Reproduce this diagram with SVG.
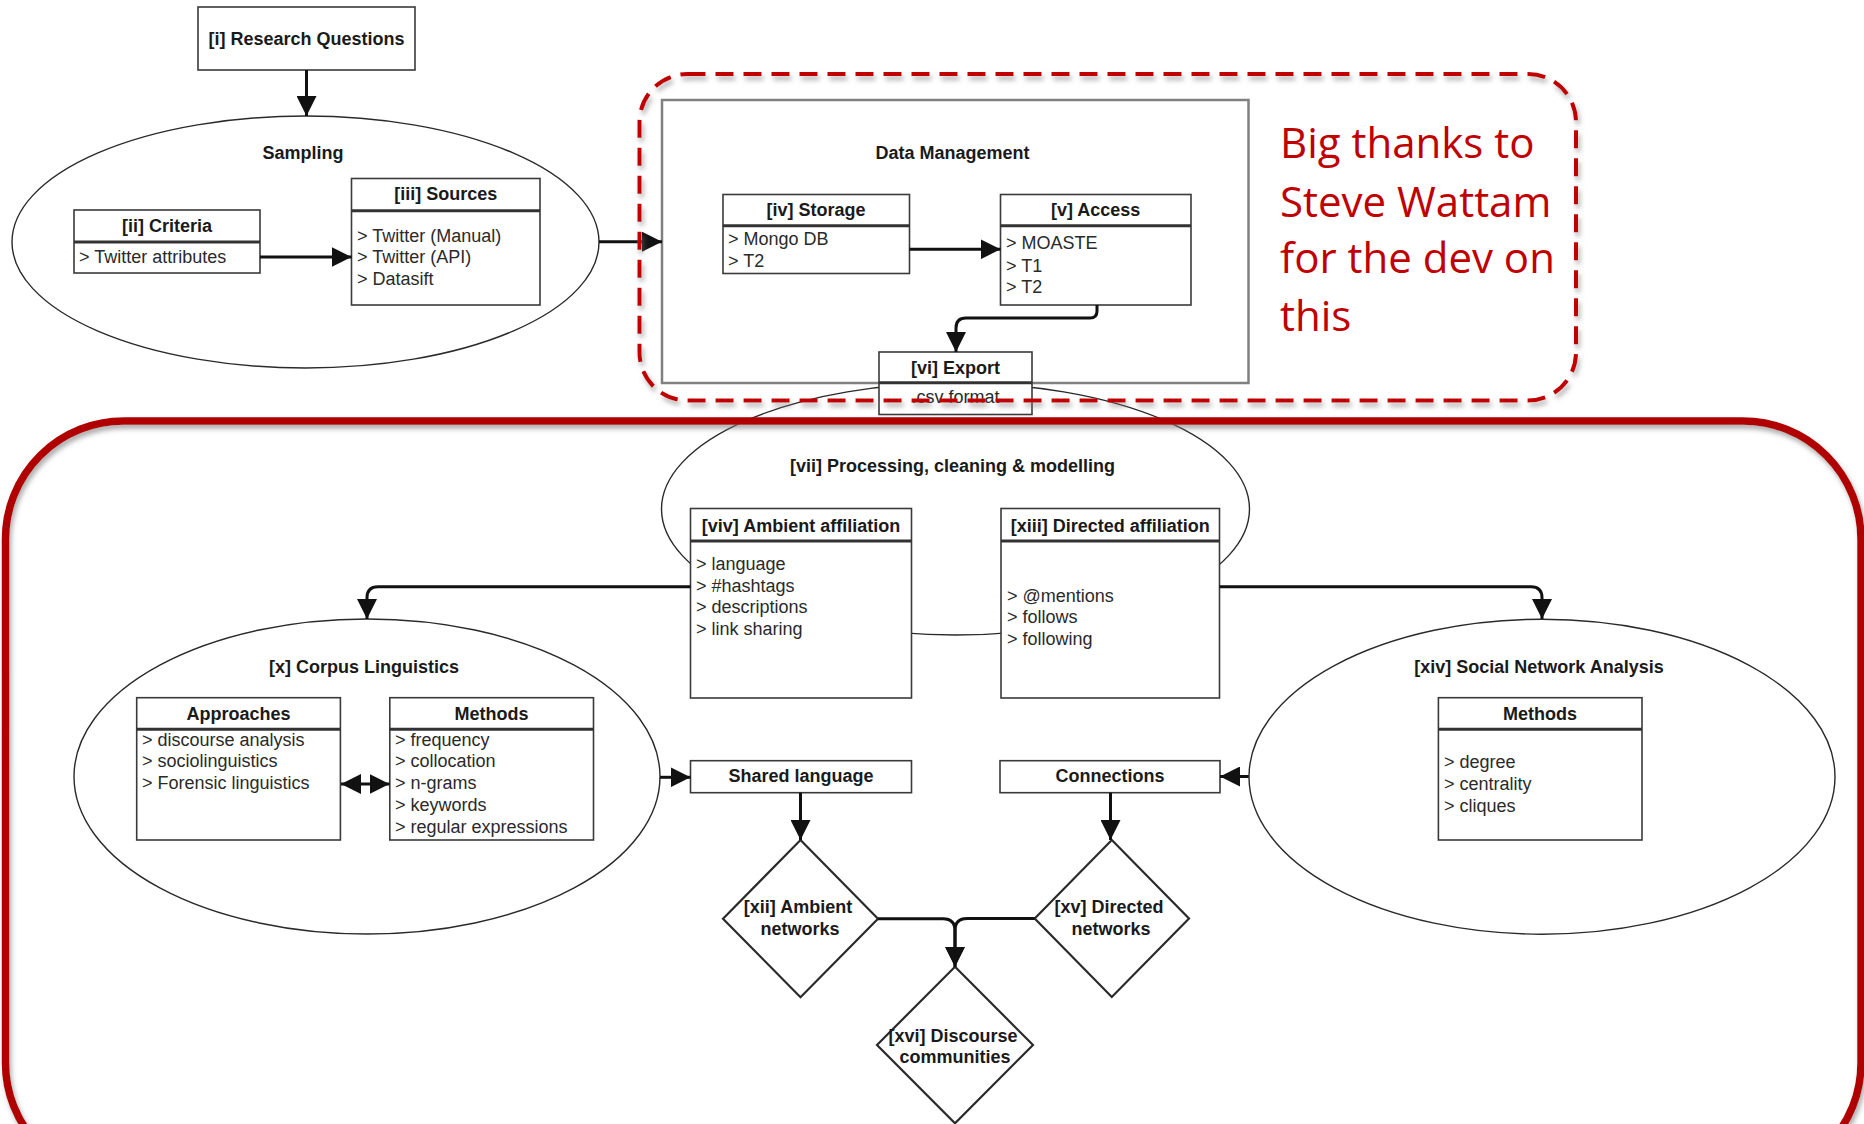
<svg xmlns="http://www.w3.org/2000/svg" width="1864" height="1124" viewBox="0 0 1864 1124">
<defs>
<style>
.b{font-family:"Liberation Sans",Arial,sans-serif;font-weight:bold;font-size:18px;fill:#1a1a1a;text-anchor:middle}
.r{font-family:"Liberation Sans",Arial,sans-serif;font-size:18px;fill:#2a2a2a}
.box{fill:#fff;stroke:#3a3a3a;stroke-width:1.6}
.sep{stroke:#333;stroke-width:3}
.ell{fill:#fff;stroke:#2a2a2a;stroke-width:1.4}
.dia{fill:#fff;stroke:#2a2a2a;stroke-width:2.2}
.con{fill:none;stroke:#111;stroke-width:3}
.thanks{font-family:"Open Sans","Liberation Sans",sans-serif;font-size:42px;fill:#c00000}
</style>
<marker id="ah" markerUnits="userSpaceOnUse" markerWidth="20" markerHeight="20" refX="20" refY="10" orient="auto-start-reverse" viewBox="0 0 20 20">
<path d="M0,0 L20,10 L0,20 z" fill="#111"/>
</marker>
<filter id="sh" x="-5%" y="-5%" width="110%" height="110%">
<feDropShadow dx="2" dy="4" stdDeviation="2.5" flood-color="#777" flood-opacity="0.6"/>
</filter>
</defs>
<rect width="1864" height="1124" fill="#fff"/>

<g id="research-questions">
<rect class="box" x="198" y="7" width="217" height="63"/>
<text class="b" x="306.5" y="45">[i] Research Questions</text>
</g>

<g id="sampling">
<ellipse class="ell" cx="305.5" cy="242" rx="293.5" ry="126"/>
<text class="b" x="303" y="159">Sampling</text>
</g>

<g id="criteria">
<rect class="box" x="74" y="210" width="186" height="63"/>
<line class="sep" x1="74" y1="242" x2="260" y2="242"/>
<text class="b" x="167" y="231.5">[ii] Criteria</text>
<text class="r" x="79" y="263">&gt; Twitter attributes</text>
</g>

<g id="sources">
<rect class="box" x="351.5" y="178.5" width="188.5" height="126.5"/>
<line class="sep" x1="351.5" y1="210.7" x2="540" y2="210.7"/>
<text class="b" x="445.7" y="200">[iii] Sources</text>
<text class="r" x="357" y="241.7">&gt; Twitter (Manual)</text>
<text class="r" x="357" y="263.3">&gt; Twitter (API)</text>
<text class="r" x="357" y="285">&gt; Datasift</text>
</g>

<g id="data-management">
<rect x="662" y="100" width="586.5" height="283" fill="#fff" stroke="#808080" stroke-width="2.5"/>
<text class="b" x="952.6" y="159">Data Management</text>
</g>

<g id="storage">
<rect class="box" x="723" y="194.5" width="186.5" height="79"/>
<line class="sep" x1="723" y1="225.7" x2="909.5" y2="225.7"/>
<text class="b" x="816" y="216">[iv] Storage</text>
<text class="r" x="728" y="245">&gt; Mongo DB</text>
<text class="r" x="728" y="266.7">&gt; T2</text>
</g>

<g id="access">
<rect class="box" x="1000.5" y="194.5" width="190.5" height="110.5"/>
<line class="sep" x1="1000.5" y1="225.7" x2="1191" y2="225.7"/>
<text class="b" x="1095.7" y="216">[v] Access</text>
<text class="r" x="1006" y="249.3">&gt; MOASTE</text>
<text class="r" x="1006" y="271.7">&gt; T1</text>
<text class="r" x="1006" y="293.3">&gt; T2</text>
</g>

<g id="processing">
<ellipse class="ell" fill="none" style="fill:none" cx="955.5" cy="509" rx="294" ry="126"/>
<text class="b" x="952.5" y="471.7">[vii] Processing, cleaning &amp; modelling</text>
</g>

<g id="export">
<rect class="box" x="879" y="352" width="153" height="62.5"/>
<line class="sep" x1="879" y1="382.7" x2="1032" y2="382.7"/>
<text class="b" x="955.5" y="373.5">[vi] Export</text>
<text class="r" x="955.5" y="403" text-anchor="middle">.csv format</text>
</g>

<g id="ambient-affiliation">
<rect class="box" x="690.5" y="508.5" width="221" height="189.5"/>
<line class="sep" x1="690.5" y1="541" x2="911.5" y2="541"/>
<text class="b" x="801" y="532">[viv] Ambient affiliation</text>
<text class="r" x="696" y="570">&gt; language</text>
<text class="r" x="696" y="591.7">&gt; #hashtags</text>
<text class="r" x="696" y="613.3">&gt; descriptions</text>
<text class="r" x="696" y="635">&gt; link sharing</text>
</g>

<g id="directed-affiliation">
<rect class="box" x="1001" y="508.5" width="218.5" height="189.5"/>
<line class="sep" x1="1001" y1="541" x2="1219.5" y2="541"/>
<text class="b" x="1110.3" y="532">[xiii] Directed affiliation</text>
<text class="r" x="1007" y="601.7">&gt; @mentions</text>
<text class="r" x="1007" y="623.3">&gt; follows</text>
<text class="r" x="1007" y="645">&gt; following</text>
</g>

<g id="corpus-linguistics">
<ellipse class="ell" cx="367" cy="776.5" rx="293" ry="157.5"/>
<text class="b" x="364" y="672.7">[x] Corpus Linguistics</text>
</g>

<g id="approaches">
<rect class="box" x="136.7" y="697.7" width="203.7" height="142.3"/>
<line class="sep" x1="136.7" y1="729.3" x2="340.4" y2="729.3"/>
<text class="b" x="238.5" y="720">Approaches</text>
<text class="r" x="142" y="746">&gt; discourse analysis</text>
<text class="r" x="142" y="767.3">&gt; sociolinguistics</text>
<text class="r" x="142" y="789.3">&gt; Forensic linguistics</text>
</g>

<g id="cl-methods">
<rect class="box" x="389.8" y="697.7" width="203.7" height="142.3"/>
<line class="sep" x1="389.8" y1="729.3" x2="593.5" y2="729.3"/>
<text class="b" x="491.6" y="720">Methods</text>
<text class="r" x="395" y="746">&gt; frequency</text>
<text class="r" x="395" y="767.3">&gt; collocation</text>
<text class="r" x="395" y="789.3">&gt; n-grams</text>
<text class="r" x="395" y="810.7">&gt; keywords</text>
<text class="r" x="395" y="832.7">&gt; regular expressions</text>
</g>

<g id="shared-language">
<rect class="box" x="690.5" y="760.7" width="221" height="32"/>
<text class="b" x="801" y="782">Shared language</text>
</g>

<g id="connections">
<rect class="box" x="1000" y="760.7" width="220" height="32"/>
<text class="b" x="1110" y="782">Connections</text>
</g>

<g id="social-network-analysis">
<ellipse class="ell" cx="1542" cy="776.7" rx="293" ry="157.5"/>
<text class="b" x="1539" y="672.7">[xiv] Social Network Analysis</text>
</g>

<g id="sna-methods">
<rect class="box" x="1438.4" y="697.7" width="203.6" height="142.3"/>
<line class="sep" x1="1438.4" y1="729.3" x2="1642" y2="729.3"/>
<text class="b" x="1540" y="720">Methods</text>
<text class="r" x="1444" y="768.3">&gt; degree</text>
<text class="r" x="1444" y="790">&gt; centrality</text>
<text class="r" x="1444" y="811.7">&gt; cliques</text>
</g>

<g id="ambient-networks">
<polygon class="dia" points="800.5,840 878,918.7 800.5,997.3 723,918.7"/>
<text class="b" x="798" y="913.3">[xii] Ambient</text>
<text class="b" x="800" y="935">networks</text>
</g>

<g id="directed-networks">
<polygon class="dia" points="1111.8,840 1189,918.5 1111.8,997 1034.7,918.5"/>
<text class="b" x="1109" y="913.3">[xv] Directed</text>
<text class="b" x="1111" y="935">networks</text>
</g>

<g id="discourse-communities">
<polygon class="dia" points="955,966.7 1033,1045 955,1123.3 877,1045"/>
<text class="b" x="953" y="1041.7">[xvi] Discourse</text>
<text class="b" x="955" y="1063.3">communities</text>
</g>

<g id="connectors">
<path class="con" d="M306.5,70 V116" marker-end="url(#ah)"/>
<path class="con" d="M260,257 H351.5" marker-end="url(#ah)"/>
<path class="con" d="M599,241.7 H662" marker-end="url(#ah)"/>
<path class="con" d="M909.5,249.3 H1000.5" marker-end="url(#ah)"/>
<path class="con" d="M1097,305 V311 Q1097,318 1090,318 H966 Q956,318 956,328 V352" marker-end="url(#ah)"/>
<path class="con" d="M690.5,586.7 H378 Q367,586.7 367,597.7 V619" marker-end="url(#ah)"/>
<path class="con" d="M1219.5,586.7 H1531 Q1542,586.7 1542,597.7 V619" marker-end="url(#ah)"/>
<path class="con" d="M341,784 H389.5" marker-start="url(#ah)" marker-end="url(#ah)"/>
<path class="con" d="M660,777.3 H690.5" marker-end="url(#ah)"/>
<path class="con" d="M1248.7,776.5 H1220" marker-end="url(#ah)"/>
<path class="con" d="M800.5,792.7 V840" marker-end="url(#ah)"/>
<path class="con" d="M1110.5,792.7 V840" marker-end="url(#ah)"/>
<path class="con" d="M878,918.7 H943 Q955,918.7 955,930.7 V966.7" marker-end="url(#ah)"/>
<path class="con" d="M1034.7,918.5 H967 Q955,918.5 955,930.5 V966.7" marker-end="url(#ah)"/>
</g>

<g id="thanks-frame">
<rect x="639.5" y="74" width="936.5" height="326.5" rx="48" fill="none" stroke="#c00000" stroke-width="4" stroke-dasharray="18 10" filter="url(#sh)"/>
<text class="thanks" x="1280" y="158.3">Big thanks to</text>
<text class="thanks" x="1280" y="216.7">Steve Wattam</text>
<text class="thanks" x="1280" y="273.3">for the dev on</text>
<text class="thanks" x="1280" y="330.7">this</text>
</g>

<g id="analysis-frame">
<rect x="5.5" y="421" width="1855.5" height="760" rx="118" fill="none" stroke="#b00000" stroke-width="7.5" filter="url(#sh)"/>
</g>
</svg>
